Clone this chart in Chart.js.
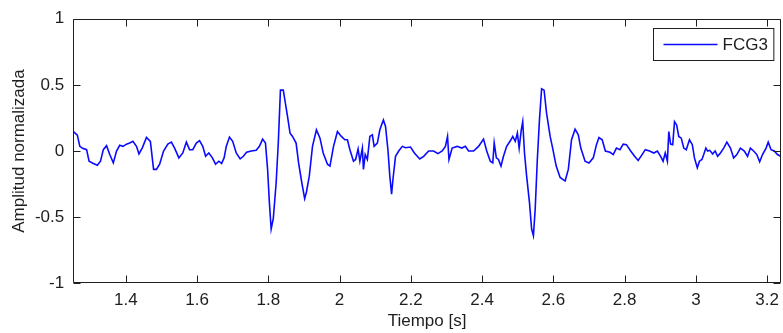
<!DOCTYPE html>
<html>
<head>
<meta charset="utf-8">
<script src="https://cdn.jsdelivr.net/npm/chart.js@4/dist/chart.umd.min.js"></script>
<style>
html,body{margin:0;padding:0;background:#fff;overflow:hidden;}
canvas{display:block;}
</style>
</head>
<body>
<canvas id="c" width="786" height="333"></canvas>
<script>
// ---- data ----
const seriesName = 'FCG3';
const timeS = [
1.253,1.264,1.271,1.279,1.290,1.297,1.309,1.320,1.329,1.337,1.346,1.355,1.365,1.374,1.383,1.392,
1.402,1.411,1.420,1.430,1.437,1.447,1.458,1.469,1.478,1.486,1.495,1.506,1.518,1.528,1.537,1.549,
1.560,1.570,1.579,1.588,1.598,1.607,1.616,1.624,1.633,1.643,1.652,1.661,1.669,1.676,1.682,1.691,
1.700,1.710,1.721,1.730,1.739,1.752,1.766,1.775,1.784,1.792,1.798,1.803,1.808,1.814,1.822,1.828,
1.834,1.842,1.848,1.854,1.861,1.868,1.878,1.885,1.894,1.902,1.907,1.915,1.924,1.935,1.945,1.954,
1.966,1.973,1.983,1.994,2.005,2.015,2.022,2.029,2.039,2.045,2.052,2.057,2.064,2.067,2.072,2.078,
2.085,2.092,2.097,2.106,2.113,2.123,2.129,2.136,2.141,2.146,2.150,2.157,2.166,2.176,2.185,2.199,
2.210,2.225,2.236,2.250,2.264,2.276,2.288,2.297,2.303,2.307,2.316,2.330,2.343,2.353,2.362,2.376,
2.390,2.404,2.413,2.423,2.430,2.434,2.440,2.446,2.453,2.460,2.469,2.481,2.486,2.493,2.499,2.504,
2.510,2.514,2.519,2.525,2.533,2.539,2.544,2.549,2.555,2.561,2.567,2.574,2.581,2.591,2.598,2.608,
2.619,2.633,2.642,2.651,2.661,2.670,2.677,2.689,2.700,2.712,2.721,2.728,2.737,2.746,2.759,2.768,
2.777,2.787,2.796,2.805,2.817,2.828,2.838,2.849,2.858,2.870,2.882,2.892,2.901,2.908,2.914,2.920,
2.924,2.929,2.935,2.940,2.946,2.952,2.959,2.966,2.973,2.982,2.990,2.996,3.004,3.010,3.017,3.022,
3.028,3.033,3.039,3.047,3.054,3.061,3.069,3.078,3.087,3.097,3.106,3.115,3.125,3.136,3.145,3.153,
3.162,3.171,3.179,3.187,3.197,3.203,3.211,3.220,3.229,3.238
];
const amplitude = [
0.147,0.120,0.035,0.020,0.010,-0.077,-0.094,-0.107,-0.077,0.010,0.040,-0.027,-0.090,0.000,0.043,0.035,
0.052,0.060,0.073,0.035,-0.022,0.028,0.102,0.073,-0.139,-0.139,-0.100,0.000,0.052,0.067,0.022,-0.052,
-0.015,0.067,0.010,0.010,0.060,0.078,0.035,-0.040,-0.015,-0.052,-0.100,-0.077,-0.094,-0.052,0.035,0.105,
0.073,-0.015,-0.060,-0.040,-0.010,0.000,0.005,0.035,0.090,0.060,-0.140,-0.390,-0.590,-0.510,-0.240,0.060,
0.460,0.460,0.360,0.260,0.135,0.110,0.060,-0.090,-0.240,-0.360,-0.310,-0.190,0.035,0.160,0.097,-0.015,
-0.100,-0.114,0.035,0.147,0.110,0.085,0.085,0.010,-0.077,-0.064,0.015,-0.077,0.022,-0.139,-0.027,-0.064,
0.110,0.122,0.035,0.060,0.160,0.235,0.185,0.000,-0.190,-0.326,-0.210,-0.040,0.000,0.035,0.025,0.030,
-0.015,-0.060,-0.040,0.000,0.000,-0.020,0.000,0.035,0.110,-0.064,0.022,0.035,0.022,0.035,0.000,0.000,
0.035,0.090,0.000,-0.077,-0.090,0.060,-0.052,-0.064,-0.114,-0.040,0.035,0.085,0.110,0.073,0.135,0.022,
0.160,0.222,-0.015,-0.190,-0.390,-0.590,-0.640,-0.440,-0.064,0.235,0.470,0.460,0.284,0.110,0.022,-0.114,
-0.200,-0.227,-0.139,0.085,0.165,0.122,0.022,-0.077,-0.090,-0.052,0.048,0.102,0.085,0.000,-0.010,-0.027,
0.022,0.010,0.052,0.048,0.000,-0.040,-0.072,-0.027,0.010,0.000,-0.015,0.000,-0.040,-0.077,-0.015,-0.077,
0.147,0.052,0.048,0.222,0.197,0.110,0.097,0.022,0.010,0.085,0.048,-0.052,-0.127,-0.077,-0.064,-0.027,
0.022,0.000,0.005,-0.022,0.000,-0.040,-0.015,0.022,0.067,0.022,-0.052,-0.027,0.022,0.000,-0.040,0.022,
0.000,-0.027,-0.082,-0.027,0.022,0.067,0.010,0.000,-0.027,-0.040
];
const xTickValues = [1.4,1.6,1.8,2.0,2.2,2.4,2.6,2.8,3.0,3.2];
const yTickValues = [-1,-0.5,0,0.5,1];
const xRange = [1.251, 3.240];
const yRange = [-1, 1];
const xTitle = 'Tiempo [s]';
const yTitle = 'Amplitud normalizada';

// ---- chart ----
const FONT = "'Liberation Sans', Arial, Helvetica, sans-serif";
const INK = '#1e1e1e';
const LINE_COLOR = '#0a0aff';

const points = timeS.map((t, i) => ({x: t, y: amplitude[i]}));

const boxAndTicks = {
  id: 'boxAndTicks',
  afterDatasetsDraw(chart) {
    const {ctx, chartArea: a, scales} = chart;
    const L = Math.round(a.left) + 0.5, R = Math.round(a.right) - 0.5;
    const T = Math.round(a.top) + 0.5, B = Math.round(a.bottom) - 0.5;
    const len = 7;
    ctx.save();
    ctx.strokeStyle = INK;
    ctx.lineWidth = 1;
    ctx.beginPath();
    ctx.rect(L, T, R - L, B - T);
    scales.x.ticks.forEach(tk => {
      const px = Math.round(scales.x.getPixelForValue(tk.value)) + 0.5;
      ctx.moveTo(px, B); ctx.lineTo(px, B - len);
      ctx.moveTo(px, T); ctx.lineTo(px, T + len);
    });
    scales.y.ticks.forEach(tk => {
      const py = Math.round(scales.y.getPixelForValue(tk.value)) + 0.5;
      ctx.moveTo(L, py); ctx.lineTo(L + len, py);
      ctx.moveTo(R, py); ctx.lineTo(R - len, py);
    });
    ctx.stroke();

    // legend box (MATLAB style)
    const ds = chart.data.datasets[0];
    ctx.font = '17px ' + FONT;
    const tw = ctx.measureText(ds.label).width;
    const bw = 10 + 54 + 5 + tw + 6;
    const bh = 32;
    const bx = Math.round(a.right - 8 - bw) + 0.5;
    const by = Math.round(a.top + 9) + 0.5;
    ctx.fillStyle = '#fff';
    ctx.fillRect(bx, by, bw, bh);
    ctx.strokeStyle = INK;
    ctx.strokeRect(bx, by, bw, bh);
    const cy = by + bh / 2;
    ctx.strokeStyle = ds.borderColor;
    ctx.lineWidth = 1.3;
    ctx.beginPath();
    ctx.moveTo(bx + 10, cy); ctx.lineTo(bx + 64, cy);
    ctx.stroke();
    ctx.fillStyle = INK;
    ctx.textBaseline = 'middle';
    ctx.textAlign = 'left';
    ctx.fillText(ds.label, bx + 69, cy + 1);
    ctx.restore();
  }
};

new Chart(document.getElementById('c'), {
  type: 'line',
  data: {
    datasets: [{
      label: seriesName,
      data: points,
      borderColor: LINE_COLOR,
      borderWidth: 1.6,
      pointRadius: 0,
      tension: 0,
      fill: false
    }]
  },
  options: {
    responsive: false,
    animation: false,
    devicePixelRatio: 1,
    layout: {padding: {top: 16, right: 2, bottom: 0, left: 0}},
    plugins: {legend: {display: false}, tooltip: {enabled: false}},
    scales: {
      x: {
        type: 'linear',
        min: xRange[0], max: xRange[1],
        afterBuildTicks(s) { s.ticks = xTickValues.map(v => ({value: v})); },
        afterFit(s) { s.height = 49.7; },
        grid: {display: false, drawTicks: false},
        border: {display: false},
        ticks: {
          padding: 7,
          color: INK,
          font: {family: FONT, size: 17},
          maxRotation: 0,
          autoSkip: false,
          callback: v => String(Number(v.toFixed(1)))
        },
        title: {display: true, text: xTitle, color: INK, font: {family: FONT, size: 17}, padding: {top: 0, bottom: 1}}
      },
      y: {
        type: 'linear',
        min: yRange[0], max: yRange[1],
        afterBuildTicks(s) { s.ticks = yTickValues.map(v => ({value: v})); },
        afterFit(s) { s.width = 72.7; },
        grid: {display: false, drawTicks: false},
        border: {display: false},
        ticks: {
          padding: 8.5,
          color: INK,
          font: {family: FONT, size: 17},
          callback: v => String(v)
        },
        title: {display: true, text: yTitle, color: INK, font: {family: FONT, size: 17}, padding: {top: 9, bottom: 0}}
      }
    }
  },
  plugins: [boxAndTicks]
});
</script>
</body>
</html>
